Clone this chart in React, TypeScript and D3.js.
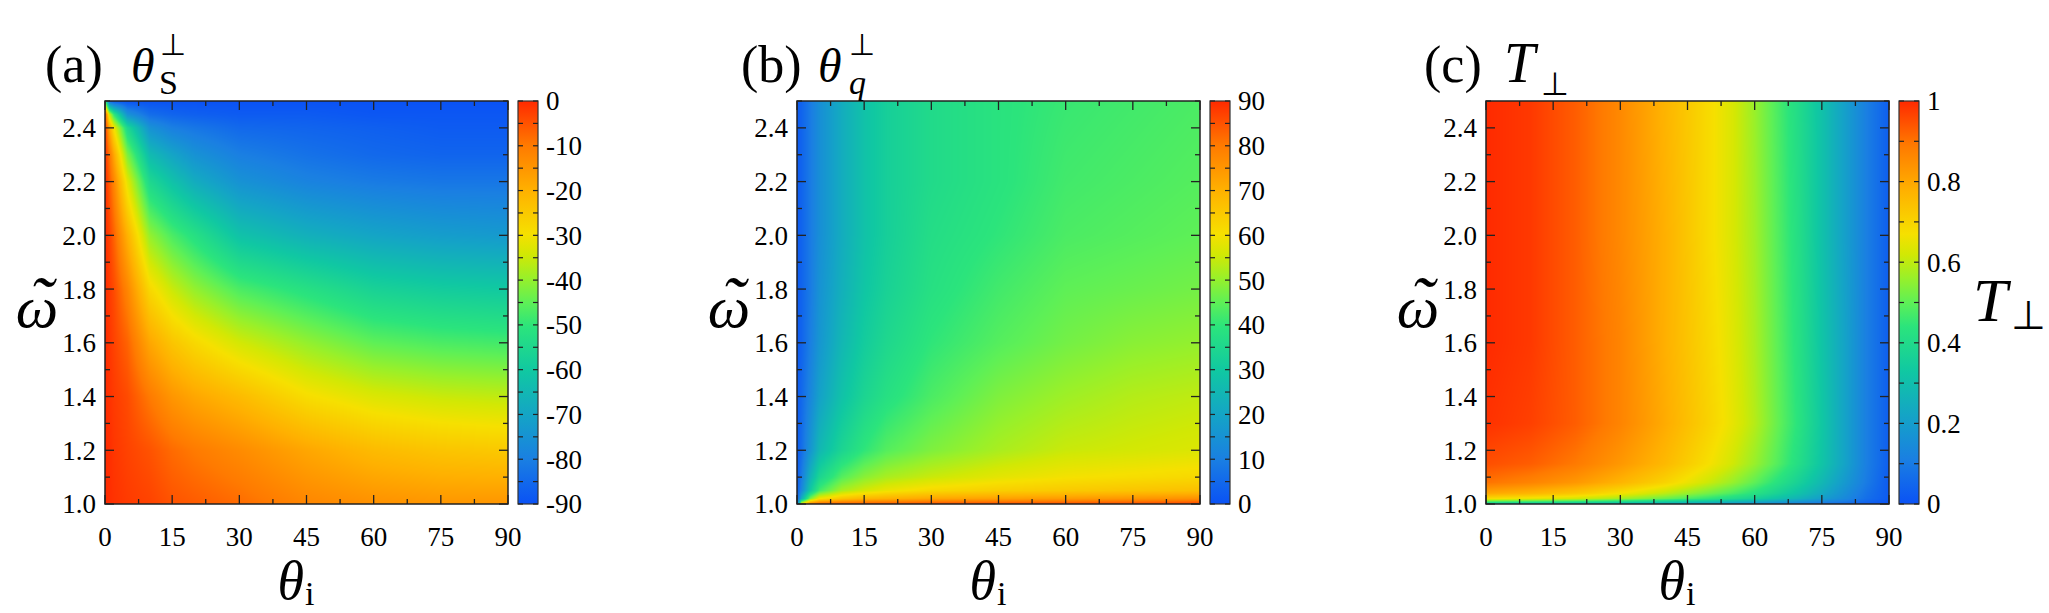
import React, { useMemo } from 'react';
import * as d3 from 'd3';

// ---- data ----
// (a) spin polar angle θS⊥ (deg); rows follow omegaA, columns follow thetaA
const thetaA = [0, 1, 2, 5, 10, 15, 20, 30, 45, 60, 75, 90];
const omegaA = [1.0, 1.2, 1.4, 1.6, 1.8, 2.0, 2.2, 2.3, 2.4, 2.45, 2.5];
const valuesA = [
  [0, -0.5, -1, -2, -3, -5, -6, -8, -12, -14, -15, -15],
  [0, -0.5, -1.5, -3, -5, -8, -10, -13, -18, -22, -24, -25],
  [0, -1, -2, -4, -10, -15, -18, -22, -29, -33, -35, -36],
  [0, -1.5, -3, -7, -18, -24, -28, -34, -40, -45, -47, -48],
  [0, -2, -4, -12, -28, -35, -40, -47, -52, -57, -59, -60],
  [0, -3, -7, -20, -40, -47, -52, -62, -67, -70, -72, -73],
  [0, -6, -12, -32, -55, -62, -68, -75, -79, -81, -82, -82],
  [-0.5, -9, -18, -42, -64, -70, -75, -80, -83, -85, -86, -86],
  [-1, -18, -30, -55, -75, -80, -82, -85, -86, -87, -88, -88],
  [-3, -35, -50, -75, -84, -86, -87, -88, -88, -89, -89, -89],
  [-45, -85, -88, -90, -90, -90, -90, -90, -90, -90, -90, -90],
];

// (b) wave-vector angle θq⊥ (deg)
const thetaB = [0, 1, 3, 5, 10, 15, 20, 30, 45, 60, 75, 90];
const omegaB = [1.0, 1.02, 1.05, 1.1, 1.2, 1.4, 1.6, 1.8, 2.0, 2.2, 2.5];
const valuesB = [
  [2, 60, 80, 84, 85, 85, 85, 86, 86, 86, 86, 87],
  [2, 22, 48, 60, 66, 69, 70, 72, 73, 74, 75, 76],
  [2, 12, 30, 42, 52, 56, 59, 62, 64, 65, 66, 67],
  [2, 9, 24, 34, 44, 49, 52, 55, 58, 60, 61, 62],
  [2, 6, 16, 25, 34, 40, 44, 48, 52, 55, 56, 57],
  [2, 5, 12, 19, 28, 34, 38, 43, 48, 51, 53, 54],
  [2, 4, 10, 16, 25, 31, 35, 40, 44, 47, 49, 50],
  [2, 4, 9, 15, 23, 29, 33, 38, 42, 45, 46, 47],
  [2, 4, 9, 14, 22, 28, 32, 37, 40, 43, 44, 45],
  [2, 4, 9, 14, 22, 28, 32, 36, 39, 42, 43, 44],
  [2, 4, 9, 14, 22, 28, 32, 36, 39, 41, 42, 43],
];

// (c) transmissivity T⊥
const thetaC = [0, 10, 20, 30, 40, 50, 55, 60, 65, 70, 75, 80, 85, 90];
const omegaC = [1.0, 1.01, 1.02, 1.04, 1.08, 1.15, 1.3, 1.6, 2.0, 2.5];
const valuesC = [
  [0.3, 0.29, 0.27, 0.25, 0.22, 0.19, 0.17, 0.15, 0.13, 0.11, 0.08, 0.06, 0.03, 0.0],
  [0.5, 0.48, 0.46, 0.42, 0.37, 0.32, 0.29, 0.26, 0.22, 0.18, 0.14, 0.1, 0.05, 0.01],
  [0.68, 0.65, 0.62, 0.57, 0.51, 0.44, 0.4, 0.36, 0.31, 0.26, 0.2, 0.14, 0.07, 0.02],
  [0.8, 0.77, 0.73, 0.67, 0.6, 0.52, 0.48, 0.43, 0.37, 0.31, 0.24, 0.16, 0.08, 0.02],
  [0.9, 0.87, 0.83, 0.77, 0.7, 0.61, 0.56, 0.5, 0.43, 0.36, 0.28, 0.19, 0.1, 0.02],
  [0.95, 0.93, 0.89, 0.83, 0.76, 0.67, 0.62, 0.56, 0.49, 0.41, 0.32, 0.22, 0.11, 0.03],
  [0.99, 0.97, 0.93, 0.87, 0.79, 0.7, 0.65, 0.59, 0.51, 0.43, 0.33, 0.22, 0.11, 0.03],
  [1.0, 0.98, 0.93, 0.87, 0.78, 0.69, 0.64, 0.58, 0.5, 0.42, 0.32, 0.22, 0.11, 0.03],
  [1.0, 0.98, 0.93, 0.86, 0.78, 0.68, 0.63, 0.57, 0.49, 0.41, 0.31, 0.21, 0.11, 0.03],
  [1.0, 0.98, 0.93, 0.86, 0.77, 0.68, 0.63, 0.56, 0.48, 0.4, 0.31, 0.21, 0.11, 0.03],
];

const xTicks = [0, 15, 30, 45, 60, 75, 90];
const yTicks = [1.0, 1.2, 1.4, 1.6, 1.8, 2.0, 2.2, 2.4];

// colour map sampled from the colour bars
const mapStops = [0, 0.11, 0.22, 0.33, 0.44, 0.5, 0.56, 0.62, 0.67, 0.78, 0.89, 1];
const mapColors = ['#0a52f5', '#1a7fe2', '#14a4c6', '#10c8a2', '#2be47c', '#5ef056', '#98f02a', '#d2e804', '#f6e000', '#ffb000', '#ff7a00', '#ff2a00'];

const FONT = '"Liberation Serif", "Times New Roman", Times, serif';
const TOP = 101;
const SIZE = 403;

const colorMap = d3.scaleLinear<string>().domain(mapStops).range(mapColors).interpolate(d3.interpolateRgb).clamp(true);

const x = d3.scaleLinear().domain([0, 90]).range([0, SIZE]);
const y = d3.scaleLinear().domain([1.0, 2.5]).range([SIZE, 0]);

function lookup(grid: number[], v: number) {
  let i = d3.bisectRight(grid, v) - 1;
  i = Math.max(0, Math.min(grid.length - 2, i));
  const t = Math.max(0, Math.min(1, (v - grid[i]) / (grid[i + 1] - grid[i])));
  return [i, t];
}

function heatmapUrl(thetas: number[], omegas: number[], vals: number[][], domain: number[]) {
  const canvas = document.createElement('canvas');
  canvas.width = SIZE;
  canvas.height = SIZE;
  const ctx = canvas.getContext('2d');
  if (!ctx) return '';
  const img = ctx.createImageData(SIZE, SIZE);
  const norm = d3.scaleLinear().domain(domain).range([0, 1]);
  for (let py = 0; py < SIZE; py++) {
    const [j, ty] = lookup(omegas, y.invert(py + 0.5));
    for (let px = 0; px < SIZE; px++) {
      const [i, tx] = lookup(thetas, x.invert(px + 0.5));
      const v0 = vals[j][i] * (1 - tx) + vals[j][i + 1] * tx;
      const v1 = vals[j + 1][i] * (1 - tx) + vals[j + 1][i + 1] * tx;
      const c = d3.rgb(colorMap(norm(v0 * (1 - ty) + v1 * ty)));
      const k = (py * SIZE + px) * 4;
      img.data[k] = c.r;
      img.data[k + 1] = c.g;
      img.data[k + 2] = c.b;
      img.data[k + 3] = 255;
    }
  }
  ctx.putImageData(img, 0, 0);
  return canvas.toDataURL();
}

const panels = [
  { id: 'a', left: 105, thetas: thetaA, omegas: omegaA, vals: valuesA, domain: [-90, 0], cbMinor: 5, cbLabels: d3.range(-90, 1, 10), fmt: (d: number) => String(d) },
  { id: 'b', left: 797, thetas: thetaB, omegas: omegaB, vals: valuesB, domain: [0, 90], cbMinor: 5, cbLabels: d3.range(0, 91, 10), fmt: (d: number) => String(d) },
  { id: 'c', left: 1486, thetas: thetaC, omegas: omegaC, vals: valuesC, domain: [0, 1], cbMinor: 0.1, cbLabels: [0, 0.2, 0.4, 0.6, 0.8, 1], fmt: (d: number) => (d === 0 || d === 1 ? String(d) : d.toFixed(1)) },
];

const Panel = ({ p }: { p: typeof panels[number] }) => {
  const url = useMemo(() => heatmapUrl(p.thetas, p.omegas, p.vals, p.domain), [p]);
  const cbX = SIZE + 10;
  const cbW = 20;
  const cb = d3.scaleLinear().domain(p.domain).range([SIZE, 0]);
  const minorX = d3.range(0, 90.01, 7.5);
  const minorY = d3.range(1.0, 2.501, 0.1);
  const cbAll = d3.range(p.domain[0], p.domain[1] + p.cbMinor / 2, p.cbMinor);
  const gradId = `grad-${p.id}`;
  return (
    <g transform={`translate(${p.left},${TOP})`}>
      <defs>
        <linearGradient id={gradId} x1="0" y1="1" x2="0" y2="0">
          {mapStops.map((s, i) => (
            <stop key={i} offset={s} stopColor={mapColors[i]} />
          ))}
        </linearGradient>
      </defs>
      <image href={url} x={0} y={0} width={SIZE} height={SIZE} preserveAspectRatio="none" />
      {/* ticks, inward on all four sides */}
      {minorX.map((d, i) => {
        const len = i % 2 === 0 ? 9 : 5;
        return (
          <g key={`xt${i}`} stroke="#222" strokeWidth={1.3}>
            <line x1={x(d)} x2={x(d)} y1={SIZE} y2={SIZE - len} />
            <line x1={x(d)} x2={x(d)} y1={0} y2={len} />
          </g>
        );
      })}
      {minorY.map((d, i) => {
        const len = i % 2 === 0 ? 9 : 5;
        return (
          <g key={`yt${i}`} stroke="#222" strokeWidth={1.3}>
            <line x1={0} x2={len} y1={y(d)} y2={y(d)} />
            <line x1={SIZE} x2={SIZE - len} y1={y(d)} y2={y(d)} />
          </g>
        );
      })}
      <rect x={0} y={0} width={SIZE} height={SIZE} fill="none" stroke="#222" strokeWidth={1.5} />
      {xTicks.map((d) => (
        <text key={`xl${d}`} x={x(d)} y={SIZE + 42} textAnchor="middle" fontSize={27} fontFamily={FONT}>
          {d}
        </text>
      ))}
      {yTicks.map((d) => (
        <text key={`yl${d}`} x={-9} y={y(d)} dy="0.35em" textAnchor="end" fontSize={27} fontFamily={FONT}>
          {d.toFixed(1)}
        </text>
      ))}
      {/* colour bar */}
      <rect x={cbX} y={0} width={cbW} height={SIZE} fill={`url(#${gradId})`} stroke="#333" strokeWidth={1.2} />
      {cbAll.map((d, i) => (
        <g key={`cb${i}`} stroke="#222" strokeWidth={1.2}>
          <line x1={cbX} x2={cbX + 5} y1={cb(d)} y2={cb(d)} />
          <line x1={cbX + cbW} x2={cbX + cbW - 5} y1={cb(d)} y2={cb(d)} />
        </g>
      ))}
      {p.cbLabels.map((d) => (
        <text key={`cl${d}`} x={cbX + cbW + 8} y={cb(d)} dy="0.35em" fontSize={27} fontFamily={FONT}>
          {p.fmt(d)}
        </text>
      ))}
      {/* axis titles */}
      <text x={SIZE / 2 + 8} y={SIZE + 95} textAnchor="end" fontSize={54} fontStyle="italic" fontFamily={FONT}>
        θ<tspan fontStyle="normal" fontSize={34} dx={1} dy={6}>i</tspan>
      </text>
      <text x={-68} y={SIZE / 2 + 24} textAnchor="middle" fontSize={60} fontStyle="italic" fontFamily={FONT}>
        ω<tspan fontSize={70} dx={-29} dy={-2}>˜</tspan>
      </text>
    </g>
  );
};

const App = () => {
  return (
    <svg width={2049} height={613} style={{ position: 'absolute', left: 0, top: 0, background: '#fff' }}>
      {panels.map((p) => (
        <Panel key={p.id} p={p} />
      ))}
      {/* panel titles */}
      <g fontFamily={FONT} fill="#000">
        <text x={45} y={82} fontSize={52}>(a)</text>
        <text x={131} y={82} fontSize={48} fontStyle="italic">θ</text>
        <text x={160} y={55} fontSize={30}>⊥</text>
        <text x={159} y={94} fontSize={34}>S</text>

        <text x={741} y={82} fontSize={52}>(b)</text>
        <text x={818} y={82} fontSize={48} fontStyle="italic">θ</text>
        <text x={849} y={55} fontSize={30}>⊥</text>
        <text x={849} y={94} fontSize={34} fontStyle="italic">q</text>

        <text x={1424} y={82} fontSize={52}>(c)</text>
        <text x={1504} y={82} fontSize={56} fontStyle="italic">T</text>
        <text x={1541} y={95} fontSize={32}>⊥</text>

        <text x={1973} y={321} fontSize={62} fontStyle="italic">T</text>
        <text x={2011} y={329} fontSize={40}>⊥</text>
      </g>
    </svg>
  );
};

export default App;
